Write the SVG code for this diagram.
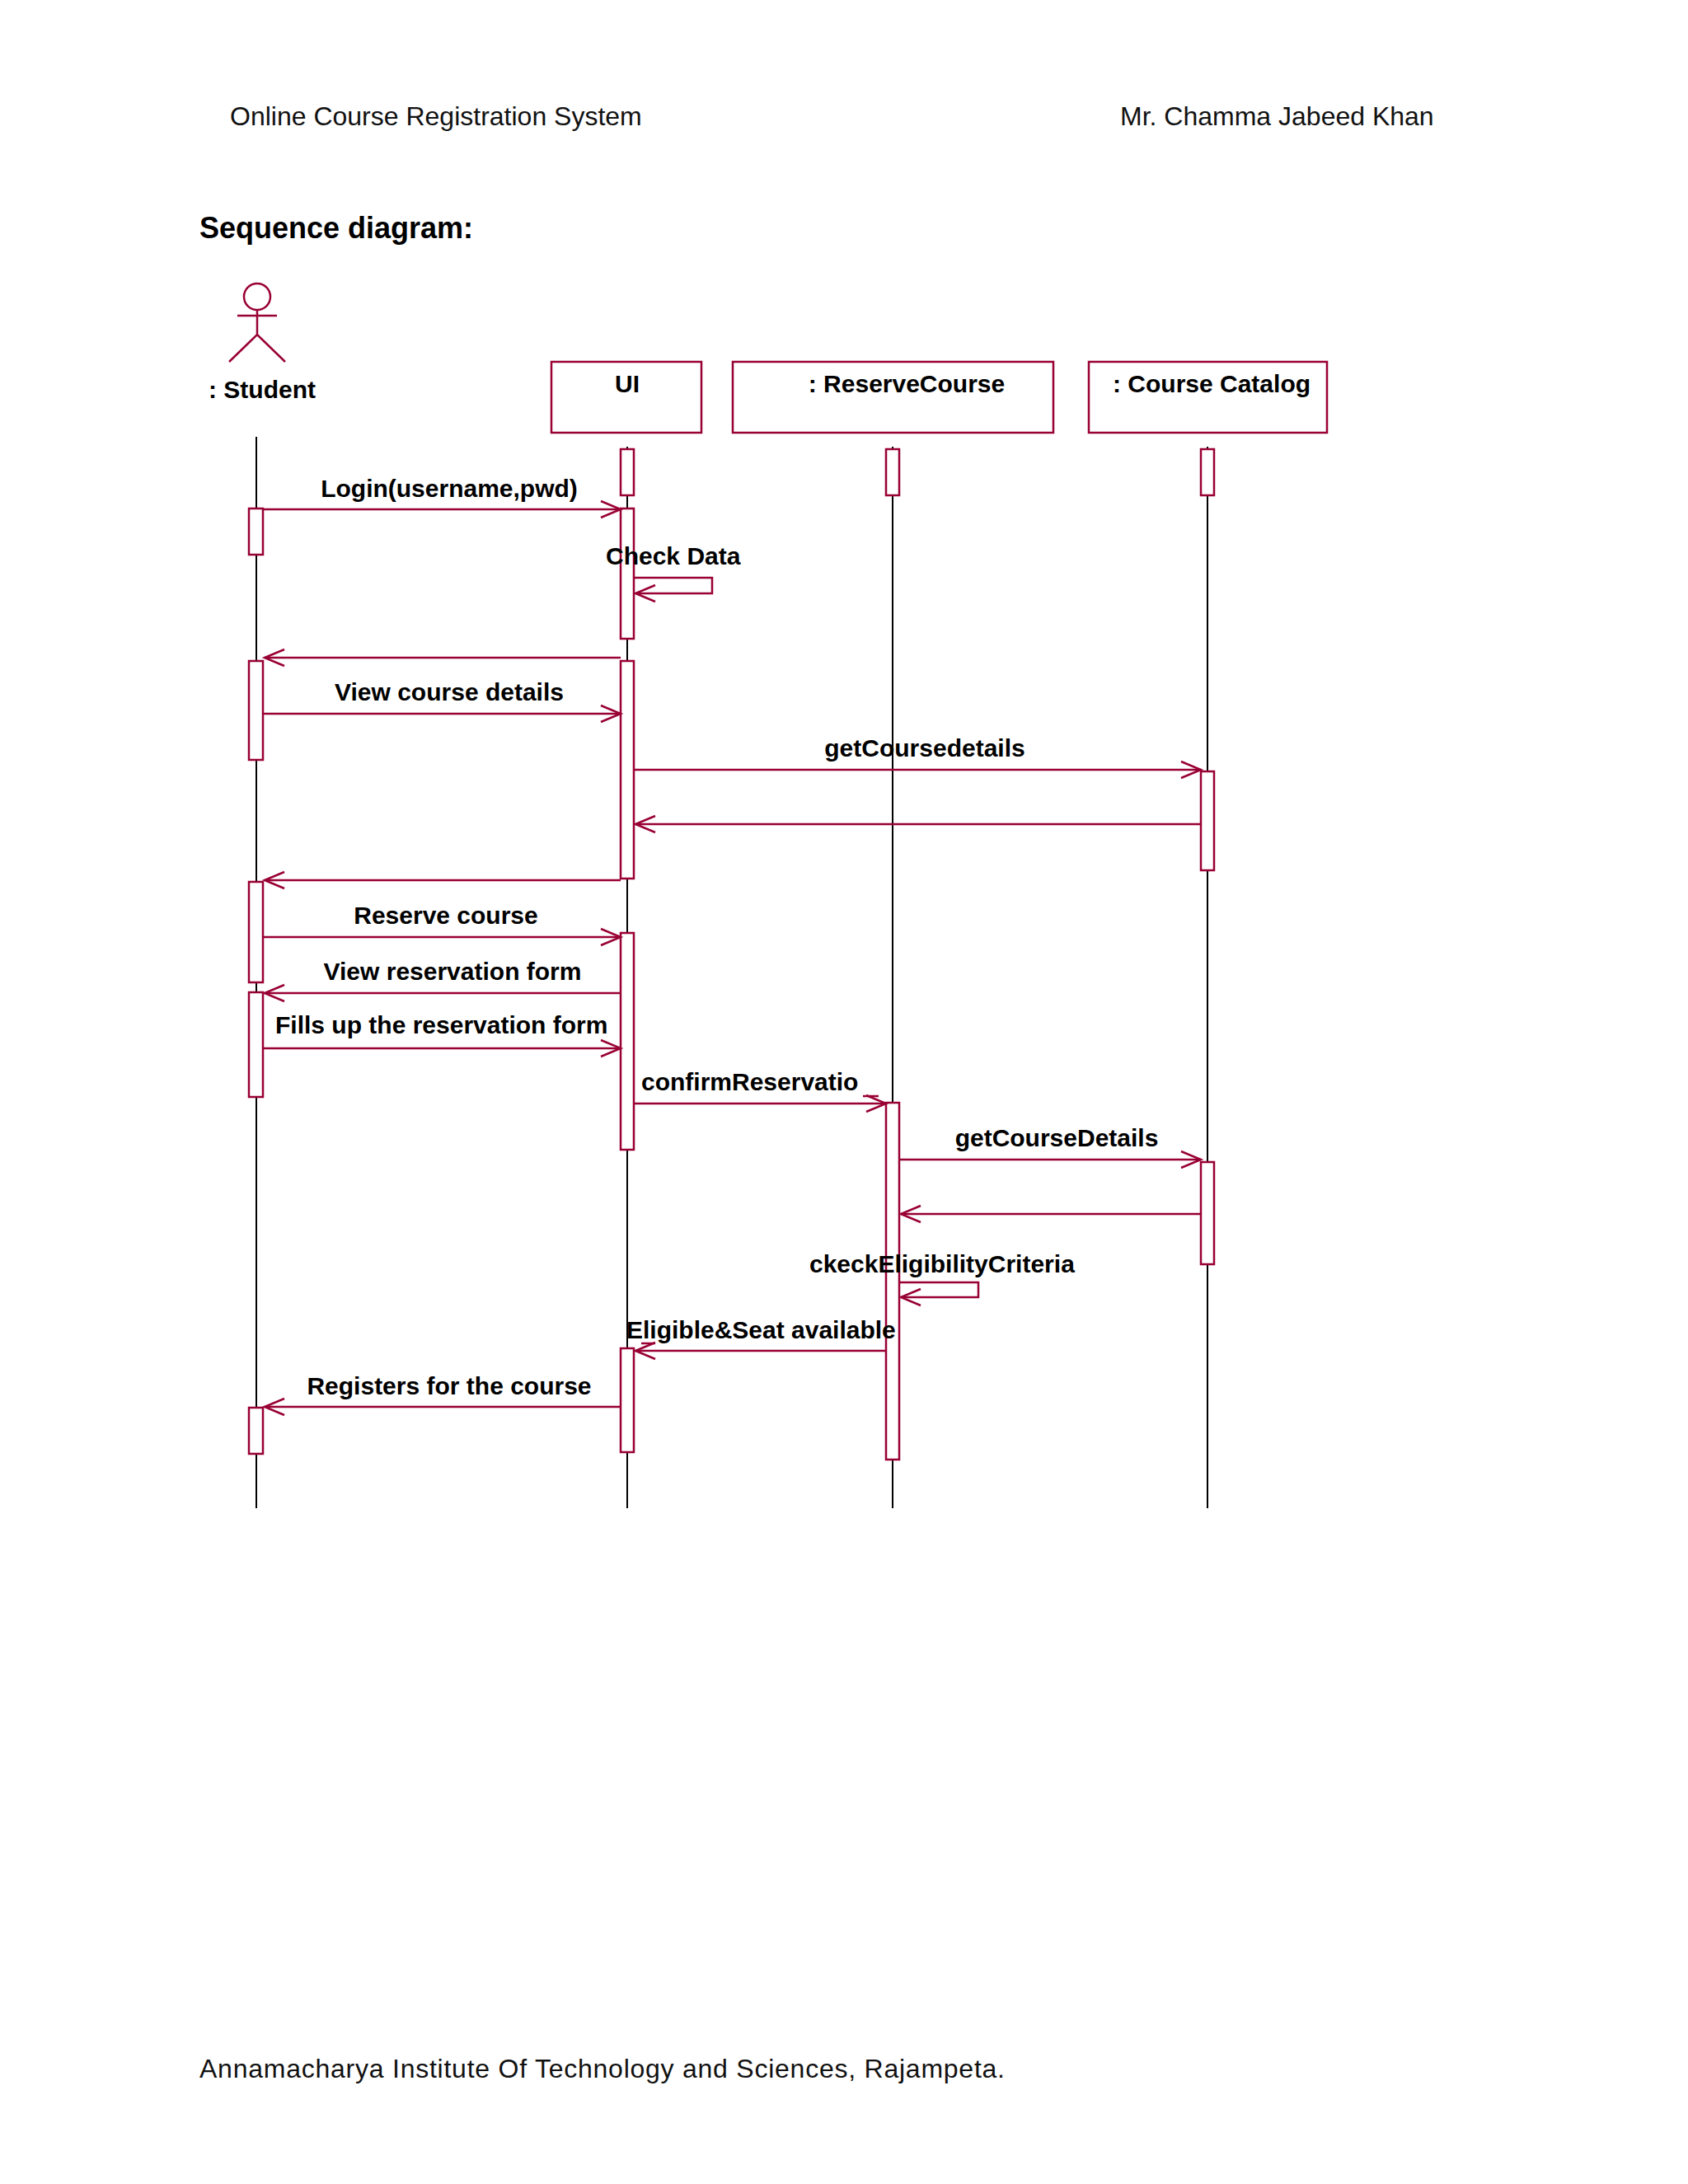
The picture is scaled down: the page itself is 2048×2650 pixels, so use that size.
<svg xmlns="http://www.w3.org/2000/svg" width="2048" height="2650" viewBox="0 0 2048 2650">
<defs>
<style>
.h{font-family:"Liberation Sans",Arial,sans-serif;font-size:32px;fill:#111}
.t{font-family:"Liberation Sans",Arial,sans-serif;font-size:30px;font-weight:bold;fill:#000}
.b{fill:#fff;stroke:#990033;stroke-width:2.5}
.m{fill:none;stroke:#990033;stroke-width:2.5}
.l{stroke:#000;stroke-width:2}
</style>
<marker id="a" markerWidth="30" markerHeight="24" refX="26" refY="12" orient="auto" markerUnits="userSpaceOnUse"><path d="M2,2 L26,12 L2,22" fill="none" stroke="#990033" stroke-width="2.5"/></marker>
</defs>
<rect width="2048" height="2650" fill="#fff"/>
<text class="h" x="279" y="152">Online Course Registration System</text>
<text class="h" x="1359" y="152">Mr. Chamma Jabeed Khan</text>
<text class="t" x="242" y="289" style="font-size:36px">Sequence diagram:</text>
<text class="h" x="242" y="2521" textLength="977">Annamacharya Institute Of Technology and Sciences, Rajampeta.</text>

<g id="lifelines">
<line class="l" x1="311" y1="530" x2="311" y2="1830"/>
<line class="l" x1="761" y1="542" x2="761" y2="1830"/>
<line class="l" x1="1083" y1="542" x2="1083" y2="1830"/>
<line class="l" x1="1465" y1="542" x2="1465" y2="1830"/>
</g>
<g id="student">
<circle class="m" cx="312" cy="360" r="16"/>
<path class="m" d="M312,376 V406 M288,383 H336 M278,439 L312,406 L346,439"/>
<text class="t" x="253" y="483">: Student</text>
</g>
<g id="ui"><rect class="b" x="669" y="439" width="182" height="86"/><text class="t" x="761" y="476" text-anchor="middle">UI</text></g>
<g id="reserve"><rect class="b" x="889" y="439" width="389" height="86"/><text class="t" x="1100" y="476" text-anchor="middle">: ReserveCourse</text></g>
<g id="catalog"><rect class="b" x="1321" y="439" width="289" height="86"/><text class="t" x="1350" y="476">: Course Catalog</text></g>

<g id="activations">
<rect class="b" x="753" y="545" width="16" height="56"/>
<rect class="b" x="1075" y="545" width="16" height="56"/>
<rect class="b" x="1457" y="545" width="16" height="56"/>
<rect class="b" x="302" y="617" width="17" height="56"/>
<rect class="b" x="302" y="802" width="17" height="120"/>
<rect class="b" x="302" y="1070" width="17" height="122"/>
<rect class="b" x="302" y="1204" width="17" height="127"/>
<rect class="b" x="302" y="1708" width="17" height="56"/>
<rect class="b" x="753" y="617" width="16" height="158"/>
<rect class="b" x="753" y="802" width="16" height="264"/>
<rect class="b" x="753" y="1132" width="16" height="263"/>
<rect class="b" x="753" y="1636" width="16" height="126"/>
<rect class="b" x="1075" y="1338" width="16" height="433"/>
<rect class="b" x="1457" y="936" width="16" height="120"/>
<rect class="b" x="1457" y="1410" width="16" height="124"/>
</g>

<g id="connectors">
<line class="m" x1="319" y1="618" x2="753" y2="618" marker-end="url(#a)"/>
<path class="m" d="M770,701 H864 V720 H771" marker-end="url(#a)"/>
<line class="m" x1="753" y1="798" x2="321" y2="798" marker-end="url(#a)"/>
<line class="m" x1="319" y1="866" x2="753" y2="866" marker-end="url(#a)"/>
<line class="m" x1="769" y1="934" x2="1457" y2="934" marker-end="url(#a)"/>
<line class="m" x1="1457" y1="1000" x2="771" y2="1000" marker-end="url(#a)"/>
<line class="m" x1="753" y1="1068" x2="321" y2="1068" marker-end="url(#a)"/>
<line class="m" x1="319" y1="1137" x2="753" y2="1137" marker-end="url(#a)"/>
<line class="m" x1="753" y1="1205" x2="321" y2="1205" marker-end="url(#a)"/>
<line class="m" x1="319" y1="1272" x2="753" y2="1272" marker-end="url(#a)"/>
<line class="m" x1="769" y1="1339" x2="1075" y2="1339" marker-end="url(#a)"/>
<line class="m" x1="1091" y1="1407" x2="1457" y2="1407" marker-end="url(#a)"/>
<line class="m" x1="1457" y1="1473" x2="1093" y2="1473" marker-end="url(#a)"/>
<path class="m" d="M1092,1556 H1187 V1574 H1093" marker-end="url(#a)"/>
<line class="m" x1="1075" y1="1639" x2="771" y2="1639" marker-end="url(#a)"/>
<line class="m" x1="753" y1="1707" x2="321" y2="1707" marker-end="url(#a)"/>
<line class="m" x1="1047" y1="1330" x2="1066" y2="1330"/>
<line class="m" x1="778" y1="1630" x2="795" y2="1630"/>
</g>

<g id="labels">
<text class="t" x="545" y="603" text-anchor="middle">Login(username,pwd)</text>
<text class="t" x="735" y="685">Check Data</text>
<text class="t" x="545" y="850" text-anchor="middle">View course details</text>
<text class="t" x="1122" y="918" text-anchor="middle">getCoursedetails</text>
<text class="t" x="541" y="1121" text-anchor="middle">Reserve course</text>
<text class="t" x="549" y="1189" text-anchor="middle">View reservation form</text>
<text class="t" x="334" y="1254">Fills up the reservation form</text>
<text class="t" x="778" y="1323">confirmReservatio</text>
<text class="t" x="1282" y="1391" text-anchor="middle">getCourseDetails</text>
<text class="t" x="982" y="1544">ckeckEligibilityCriteria</text>
<text class="t" x="760" y="1624">Eligible&amp;Seat available</text>
<text class="t" x="545" y="1692" text-anchor="middle">Registers for the course</text>
</g>
</svg>
